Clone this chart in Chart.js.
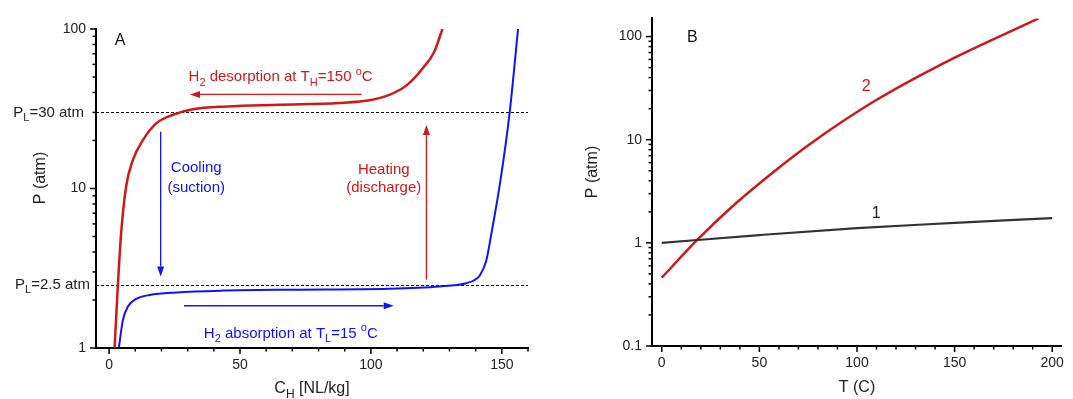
<!DOCTYPE html>
<html>
<head>
<meta charset="utf-8">
<script src="https://cdn.jsdelivr.net/npm/chart.js@4.4.1/dist/chart.umd.min.js"></script>
<style>
    body { margin: 0; background: #fff; width: 1073px; height: 399px; position: relative; overflow: hidden; }
    canvas { position: absolute; top: 0; }
    #chartA { left: 0; }
    #chartB { left: 545px; }
</style>
</head>
<body>
<canvas id="chartA" width="545" height="399"></canvas>
<canvas id="chartB" width="528" height="399"></canvas>
<script>
// Panel A - isotherms, C_H [NL/kg] against P [atm]
const desorbC = [2.1, 3.4, 4.6, 6.5, 9.1, 12.9, 18.0, 24.4, 32.0, 45, 65, 88, 100, 107, 113.6, 119.9, 124.2, 127.3];
const desorbP = [1, 2.55, 5.25, 10.3, 15.1, 20.1, 25.6, 29.0, 31.4, 32.7, 33.5, 34.4, 35.9, 38.6, 44.3, 57, 72, 100];
const absorbC = [3.7, 5.3, 7.2, 10.4, 15.5, 25.6, 43.5, 70, 107, 126.3, 136.5, 139.5, 141.6, 144.1, 146, 149.5, 153, 156.2];
const absorbP = [1, 1.5, 1.82, 2.03, 2.15, 2.23, 2.29, 2.32, 2.35, 2.43, 2.55, 2.66, 2.85, 3.55, 5.2, 11.3, 30, 100];
const plateauP = [30, 2.5];
const xTicksA = [0, 50, 100, 150];
const yTicksA = [1, 10, 100];

// Panel B - P against T
const line1T = [0, 50, 100, 150, 200];
const line1P = [1.0, 1.19, 1.39, 1.56, 1.74];
const line2T = [0, 18.4, 38.4, 57.4, 76.3, 109, 145, 193];
const line2P = [0.46, 1.08, 2.46, 4.9, 9.2, 23.7, 56, 150];
const xTicksB = [0, 50, 100, 150, 200];
const yTicksB = [0.1, 1, 10, 100];

const RED = '#d01818';
const BLUE = '#1010ff';
const FONT = '"Liberation Sans", Arial, sans-serif';

Chart.defaults.font.family = FONT;
Chart.defaults.color = '#222';

function pts(xs, ys) {
    return xs.map((v, i) => ({ x: v, y: ys[i] }));
}

// text with sub / superscript parts: [text, 'sub'|'sup'|undefined]
function richText(ctx, parts, x, y, size, color, align) {
    const norm = size + 'px ' + FONT;
    const small = Math.round(size * 0.72) + 'px ' + FONT;
    let w = 0;
    parts.forEach(p => { ctx.font = p[1] ? small : norm; w += ctx.measureText(p[0]).width; });
    let cx = align === 'right' ? x - w : (align === 'center' ? x - w / 2 : x);
    ctx.fillStyle = color;
    ctx.textBaseline = 'middle';
    ctx.textAlign = 'left';
    parts.forEach(p => {
        ctx.font = p[1] ? small : norm;
        const dy = p[1] === 'sub' ? size * 0.38 : (p[1] === 'sup' ? -size * 0.36 : 0);
        ctx.fillText(p[0], cx, y + dy);
        cx += ctx.measureText(p[0]).width;
    });
}

function arrow(ctx, x1, y1, x2, y2, color) {
    const a = Math.atan2(y2 - y1, x2 - x1);
    const head = 10, half = 3.5;
    const c = Math.cos(a), s = Math.sin(a);
    ctx.strokeStyle = color;
    ctx.fillStyle = color;
    ctx.lineWidth = 1.3;
    ctx.beginPath();
    ctx.moveTo(x1, y1);
    ctx.lineTo(x2 - head * c, y2 - head * s);
    ctx.stroke();
    ctx.beginPath();
    ctx.moveTo(x2, y2);
    ctx.lineTo(x2 - head * c + half * s, y2 - head * s - half * c);
    ctx.lineTo(x2 - head * c - half * s, y2 - head * s + half * c);
    ctx.closePath();
    ctx.fill();
}

// outward tick marks, long at majors, short at minors
function drawTicks(chart, xStep, xMajor) {
    const { ctx, scales: { x, y } } = chart;
    ctx.save();
    ctx.strokeStyle = '#000';
    ctx.lineWidth = 1.5;
    for (let v = Math.ceil(x.min / xStep) * xStep; v <= x.max; v += xStep) {
        const px = x.getPixelForValue(v);
        const len = v % xMajor === 0 ? 6 : 3.5;
        ctx.beginPath();
        ctx.moveTo(px, y.bottom);
        ctx.lineTo(px, y.bottom + len);
        ctx.stroke();
    }
    const e0 = Math.floor(Math.log10(y.min)), e1 = Math.ceil(Math.log10(y.max));
    for (let e = e0; e <= e1; e++) {
        for (let m = 1; m < 10; m++) {
            const v = m * Math.pow(10, e);
            if (v < y.min * 0.999 || v > y.max * 1.001) continue;
            const py = y.getPixelForValue(v);
            const len = m === 1 ? 6 : 3.5;
            ctx.beginPath();
            ctx.moveTo(x.left - len, py);
            ctx.lineTo(x.left, py);
            ctx.stroke();
        }
    }
    ctx.restore();
}

function axisTitles(chart, yTitle, yOffset, yCenter, xParts, xCenter, xY) {
    const { ctx, scales: { x, y } } = chart;
    ctx.save();
    ctx.translate(x.left - yOffset, yCenter);
    ctx.rotate(-Math.PI / 2);
    richText(ctx, [[yTitle]], 0, 0, 16, '#222', 'center');
    ctx.restore();
    ctx.save();
    richText(ctx, xParts, xCenter, xY, 16, '#222', 'center');
    ctx.restore();
}

const panelA = {
    id: 'panelA',
    beforeDatasetsDraw(chart) {
        const { ctx, scales: { x, y } } = chart;
        ctx.save();
        ctx.strokeStyle = '#000';
        ctx.lineWidth = 1;
        ctx.setLineDash([3, 2]);
        plateauP.forEach(p => {
            const py = Math.round(y.getPixelForValue(p)) + 0.5;
            ctx.beginPath();
            ctx.moveTo(x.left, py);
            ctx.lineTo(x.right, py);
            ctx.stroke();
        });
        ctx.restore();
    },
    afterDraw(chart) {
        const { ctx, scales: { x, y } } = chart;
        drawTicks(chart, 10, 50);
        ctx.save();
        // plateau labels beside the axis
        richText(ctx, [['P'], ['L', 'sub'], ['=30 atm']], x.left - 12, y.getPixelForValue(30), 15, '#222', 'right');
        richText(ctx, [['P'], ['L', 'sub'], ['=2.5 atm']], x.left - 6, y.getPixelForValue(2.5), 15, '#222', 'right');
        richText(ctx, [['A']], x.getPixelForValue(4.2), y.getPixelForValue(85), 16, '#111', 'center');

        richText(ctx, [['H'], ['2', 'sub'], [' desorption at T'], ['H', 'sub'], ['=150 '], ['o', 'sup'], ['C']],
            x.getPixelForValue(65.5), y.getPixelForValue(50), 15, RED, 'center');
        arrow(ctx, x.getPixelForValue(96.4), y.getPixelForValue(38.9), x.getPixelForValue(30.9), y.getPixelForValue(38.9), RED);

        richText(ctx, [['Cooling']], x.getPixelForValue(33.3), y.getPixelForValue(13.4), 15, BLUE, 'center');
        richText(ctx, [['(suction)']], x.getPixelForValue(33.3), y.getPixelForValue(10.05), 15, BLUE, 'center');
        arrow(ctx, x.getPixelForValue(19.7), y.getPixelForValue(22.7), x.getPixelForValue(19.7), y.getPixelForValue(2.81), BLUE);

        richText(ctx, [['Heating']], x.getPixelForValue(104.9), y.getPixelForValue(13.1), 15, RED, 'center');
        richText(ctx, [['(discharge)']], x.getPixelForValue(104.9), y.getPixelForValue(10.05), 15, RED, 'center');
        arrow(ctx, x.getPixelForValue(121.2), y.getPixelForValue(2.68), x.getPixelForValue(121.2), y.getPixelForValue(25), RED);

        arrow(ctx, x.getPixelForValue(28.6), y.getPixelForValue(1.84), x.getPixelForValue(108.7), y.getPixelForValue(1.84), BLUE);
        richText(ctx, [['H'], ['2', 'sub'], [' absorption at T'], ['L', 'sub'], ['=15 '], ['o', 'sup'], ['C']],
            x.getPixelForValue(69.4), y.getPixelForValue(1.23), 15, BLUE, 'center');
        ctx.restore();
        axisTitles(chart, 'P (atm)', 55, 178, [['C'], ['H', 'sub'], [' [NL/kg]']], (x.left + x.right) / 2, 389);
    }
};

const panelB = {
    id: 'panelB',
    afterDraw(chart) {
        const { ctx, scales: { x, y } } = chart;
        drawTicks(chart, 10, 50);
        ctx.save();
        richText(ctx, [['B']], x.getPixelForValue(15.6), y.getPixelForValue(98), 16, '#111', 'center');
        richText(ctx, [['2']], x.getPixelForValue(104.7), y.getPixelForValue(32.9), 16, RED, 'center');
        richText(ctx, [['1']], x.getPixelForValue(109.9), y.getPixelForValue(1.94), 16, '#222', 'center');
        ctx.restore();
        axisTitles(chart, 'P (atm)', 59, 172, [['T (C)']], (x.left + x.right) / 2, 388);
    }
};

function xScale(min, max, tickVals, height) {
    return {
        type: 'linear', min: min, max: max,
        afterBuildTicks: s => { s.ticks = tickVals.map(v => ({ value: v })); },
        afterFit: s => { s.height = height; },
        grid: { display: false, drawTicks: false },
        border: { display: true, color: '#000', width: 2 },
        ticks: { autoSkip: false, maxRotation: 0, padding: 9, color: '#222', font: { size: 14 }, callback: v => String(v) }
    };
}

function yScale(min, max, tickVals, width) {
    return {
        type: 'logarithmic', min: min, max: max,
        afterBuildTicks: s => { s.ticks = tickVals.map(v => ({ value: v })); },
        afterFit: s => { s.width = width; },
        grid: { display: false, drawTicks: false },
        border: { display: true, color: '#000', width: 2 },
        ticks: { autoSkip: false, padding: 10, color: '#222', font: { size: 14 }, callback: v => String(v) }
    };
}

function lineSet(data, color, width) {
    return {
        data: data, borderColor: color, borderWidth: width, pointRadius: 0,
        fill: false, cubicInterpolationMode: 'monotone'
    };
}

const commonOpts = {
    responsive: false,
    animation: false,
    events: [],
    plugins: { legend: { display: false }, tooltip: { enabled: false } }
};

new Chart(document.getElementById('chartA').getContext('2d'), {
    type: 'line',
    data: {
        datasets: [
            lineSet(pts(desorbC, desorbP), RED, 2.5),
            lineSet(pts(absorbC, absorbP), BLUE, 2)
        ]
    },
    options: Object.assign({}, commonOpts, {
        layout: { padding: { left: 0, top: 29, right: 17, bottom: 0 } },
        scales: {
            x: xScale(-5, 160, xTicksA, 51),
            y: yScale(1, 100, yTicksA, 96)
        }
    }),
    plugins: [panelA]
});

new Chart(document.getElementById('chartB').getContext('2d'), {
    type: 'line',
    data: {
        datasets: [
            lineSet(pts(line1T, line1P), '#333', 2.2),
            lineSet(pts(line2T, line2P), RED, 2.5)
        ]
    },
    options: Object.assign({}, commonOpts, {
        layout: { padding: { left: 0, top: 12, right: 4, bottom: 0 } },
        scales: {
            x: xScale(-5, 205, xTicksB, 53),
            y: yScale(0.1, 150, yTicksB, 107)
        }
    }),
    plugins: [panelB]
});
</script>
</body>
</html>
